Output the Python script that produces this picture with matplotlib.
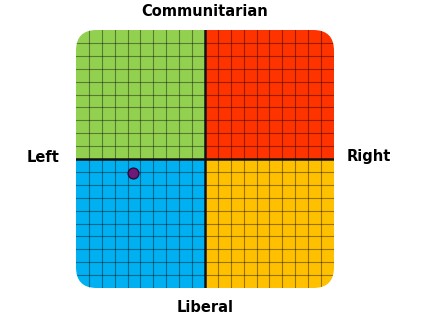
import matplotlib
matplotlib.use("Agg")
import matplotlib.pyplot as plt
from matplotlib.patches import FancyBboxPatch, Rectangle
import numpy as np

# 象限颜色 (左上, 右上, 左下, 右下)
quadrants = [(-10, 0, "#92d050"), (0, 0, "#ff3300"), (-10, -10, "#00b0f0"), (0, -10, "#ffc000")]
point_x = [-5.6]
point_y = [-1.05]
axis_labels = {"top": "Communitarian", "bottom": "Liberal", "left": "Left", "right": "Right"}

fig = plt.figure(figsize=(4.35, 3.28), dpi=100)
ax = fig.add_axes([76 / 435, 40 / 328, 258 / 435, 258 / 328])
ax.set_xlim(-10, 10)
ax.set_ylim(-10, 10)
ax.axis("off")

# 圆角外框用作裁剪
clip = FancyBboxPatch((-10, -10), 20, 20, boxstyle="round,pad=0,rounding_size=1.6",
                      facecolor="none", edgecolor="none", transform=ax.transData)
ax.add_patch(clip)

for x0, y0, c in quadrants:
    r = Rectangle((x0, y0), 10, 10, facecolor=c, edgecolor="none", zorder=1)
    ax.add_patch(r)
    r.set_clip_path(clip)

# 网格
for v in np.arange(-9, 10):
    if v == 0:
        continue
    l1, = ax.plot([v, v], [-10, 10], color="black", lw=0.8, alpha=0.4, zorder=2)
    l2, = ax.plot([-10, 10], [v, v], color="black", lw=0.8, alpha=0.4, zorder=2)
    l1.set_clip_path(clip)
    l2.set_clip_path(clip)

ax.plot([0, 0], [-10, 10], color="#111111", lw=1.8, zorder=3)
ax.plot([-10, 10], [0, 0], color="#111111", lw=1.8, zorder=3)

ax.scatter(point_x, point_y, s=60, color="#6e1a78", edgecolor="#2e0a3a", linewidth=1, zorder=4)

fs = 10.5
fig.text(205 / 435, 1 - 12 / 328, axis_labels["top"], ha="center", va="center", fontsize=fs, fontweight="bold")
fig.text(205 / 435, 1 - 307 / 328, axis_labels["bottom"], ha="center", va="center", fontsize=fs, fontweight="bold")
fig.text(43 / 435, 1 - 157 / 328, axis_labels["left"], ha="center", va="center", fontsize=fs, fontweight="bold")
fig.text(369 / 435, 1 - 157 / 328, axis_labels["right"], ha="center", va="center", fontsize=fs, fontweight="bold")

fig.savefig("out.png", dpi=100)
